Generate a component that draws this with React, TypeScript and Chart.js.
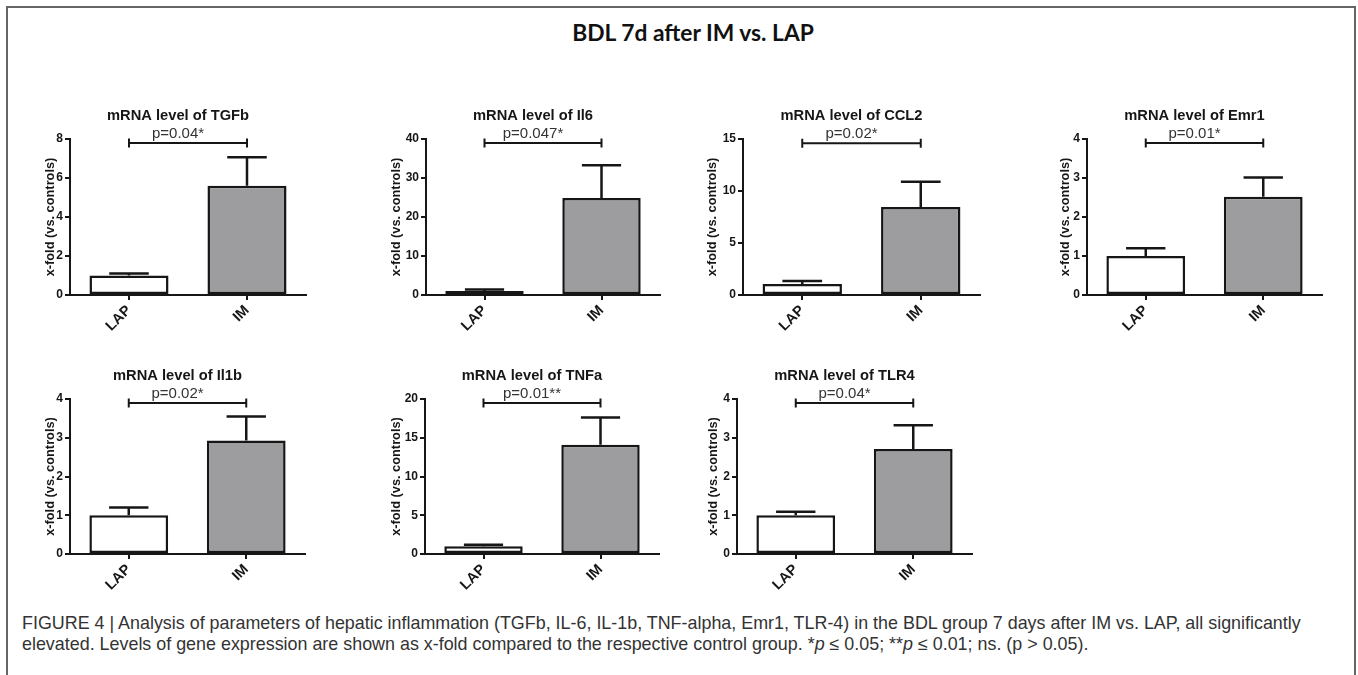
import React, { useEffect, useRef } from 'react';
import { Chart, registerables } from 'chart.js';

Chart.register(...registerables);

// ---------- data ----------
const categories = ['LAP', 'IM'];
const genes = ['TGFb', 'Il6', 'CCL2', 'Emr1', 'Il1b', 'TNFa', 'TLR4'];
const lapMeans = [1.0, 1.0, 1.05, 1.0, 1.0, 1.0, 1.0];
const lapUpper = [1.1, 1.4, 1.35, 1.2, 1.2, 1.2, 1.09];
const imMeans = [5.6, 24.9, 8.45, 2.52, 2.93, 14.1, 2.71];
const imUpper = [7.06, 33.3, 10.9, 3.01, 3.55, 17.6, 3.32];
const yMax = [8, 40, 15, 4, 4, 20, 4];
const yStep = [2, 10, 5, 1, 1, 5, 1];
const pLabels = ['p=0.04*', 'p=0.047*', 'p=0.02*', 'p=0.01*', 'p=0.02*', 'p=0.01**', 'p=0.04*'];
const bracketLevels = [7.8, 39, 14.6, 3.9, 3.9, 19.5, 3.9];
const yAxisTitle = 'x-fold (vs. controls)';
const mainTitle = 'BDL 7d after IM vs. LAP';

// ---------- layout (pixel geometry of each panel's plot area) ----------
type Geo = { L: number; R: number; T: number; B: number; yt: number };
const geos: Geo[] = [
  { L: 70, R: 306, T: 139, B: 295, yt: 50 },
  { L: 426, R: 660, T: 139, B: 295, yt: 396 },
  { L: 743, R: 980, T: 139, B: 295, yt: 712 },
  { L: 1087, R: 1322, T: 139, B: 295, yt: 1065 },
  { L: 70, R: 305, T: 399, B: 554, yt: 50 },
  { L: 425, R: 659, T: 399, B: 554, yt: 396 },
  { L: 737, R: 972, T: 399, B: 554, yt: 713 },
];
const PAD_L = 60;
const PAD_T = 42;
const PAD_R = 12;
const X_H = 52;
const INK = '#161616';
const GRAY = '#9d9d9f';
const FONT = '"Liberation Sans", Arial, Helvetica, sans-serif';

function overlayPlugin(idx: number) {
  return {
    id: 'overlay' + idx,
    afterDatasetsDraw(chart: any) {
      const ctx = chart.ctx;
      const meta = chart.getDatasetMeta(0);
      const ys = chart.scales.y;
      const area = chart.chartArea;
      const uppers = [lapUpper[idx], imUpper[idx]];
      ctx.save();
      ctx.strokeStyle = INK;
      ctx.lineWidth = 2.5;
      ctx.lineCap = 'butt';
      meta.data.forEach((bar: any, i: number) => {
        const x = bar.x;
        const top = bar.y;
        const ey = ys.getPixelForValue(uppers[i]);
        const half = bar.width / 4;
        ctx.beginPath();
        ctx.moveTo(x, top);
        ctx.lineTo(x, ey);
        ctx.moveTo(x - half, ey);
        ctx.lineTo(x + half, ey);
        ctx.stroke();
      });
      // significance bracket
      const by = ys.getPixelForValue(bracketLevels[idx]);
      const x0 = meta.data[0].x;
      const x1 = meta.data[1].x;
      ctx.lineWidth = 2;
      ctx.beginPath();
      ctx.moveTo(x0, by);
      ctx.lineTo(x1, by);
      ctx.moveTo(x0, by - 4.5);
      ctx.lineTo(x0, by + 4.5);
      ctx.moveTo(x1, by - 4.5);
      ctx.lineTo(x1, by + 4.5);
      ctx.stroke();
      const cx = (area.left + area.right) / 2 - 10;
      ctx.textAlign = 'center';
      ctx.textBaseline = 'alphabetic';
      ctx.fillStyle = '#333';
      ctx.font = '15px ' + FONT;
      ctx.fillText(pLabels[idx], cx, by - 5);
      ctx.fillStyle = INK;
      ctx.font = 'bold 14.7px ' + FONT;
      ctx.fillText('mRNA level of ' + genes[idx], cx, area.top - 19);
      ctx.restore();
    },
  };
}

function Panel({ idx }: { idx: number }) {
  const ref = useRef<HTMLCanvasElement>(null);
  const g = geos[idx];
  const w = g.R - g.L + PAD_L + PAD_R;
  const h = g.B - g.T + PAD_T + X_H;
  useEffect(() => {
    if (!ref.current) return;
    const chart = new Chart(ref.current, {
      type: 'bar',
      data: {
        labels: categories,
        datasets: [
          {
            data: [lapMeans[idx], imMeans[idx]],
            backgroundColor: ['#ffffff', GRAY],
            borderColor: INK,
            borderWidth: 2.5,
            borderSkipped: false,
            barPercentage: 0.67,
            categoryPercentage: 1,
          },
        ],
      },
      options: {
        animation: false,
        responsive: false,
        devicePixelRatio: 1,
        events: [],
        layout: { padding: { left: 0, top: PAD_T, right: PAD_R, bottom: 0 } },
        plugins: { legend: { display: false }, tooltip: { enabled: false }, title: { display: false } },
        scales: {
          x: {
            offset: true,
            grid: {
              display: true,
              drawOnChartArea: false,
              drawTicks: true,
              tickLength: 5,
              offset: false,
              color: INK,
              lineWidth: 2,
            },
            border: { display: true, color: INK, width: 2 },
            ticks: {
              minRotation: 45,
              maxRotation: 45,
              padding: 2,
              color: INK,
              font: { family: FONT, size: 14.5, weight: 'bold' },
            },
            afterFit: (s: any) => {
              s.height = X_H;
            },
          },
          y: {
            min: 0,
            max: yMax[idx],
            ticks: {
              stepSize: yStep[idx],
              padding: 2,
              color: INK,
              font: { family: FONT, size: 12, weight: 'bold' },
            },
            grid: {
              display: true,
              drawOnChartArea: false,
              drawTicks: true,
              tickLength: 5,
              color: INK,
              lineWidth: 2,
            },
            border: { display: true, color: INK, width: 2 },
            title: {
              display: true,
              text: yAxisTitle,
              color: INK,
              font: { family: FONT, size: 12.8, weight: 'bold' },
              padding: { top: g.yt - (g.L - PAD_L) - 7.7, bottom: 0 },
            },
            afterFit: (s: any) => {
              s.width = PAD_L;
            },
          },
        },
      },
      plugins: [overlayPlugin(idx)],
    } as any);
    return () => chart.destroy();
  }, [idx]);
  return (
    <canvas
      ref={ref}
      width={w}
      height={h}
      style={{ position: 'absolute', left: g.L - PAD_L, top: g.T - PAD_T, width: w, height: h }}
    />
  );
}

export default function App() {
  return (
    <div style={{ position: 'absolute', left: 0, top: 0, width: 1358, height: 675, overflow: 'hidden', background: '#fff' }}>
      <div
        style={{
          position: 'absolute',
          left: 6,
          top: 6,
          width: 1350,
          height: 680,
          border: '2px solid #666',
          boxSizing: 'border-box',
        }}
      />
      <div
        style={{
          position: 'absolute',
          left: 0,
          top: 17,
          width: 1386,
          textAlign: 'center',
          fontFamily: 'Lato, "Open Sans", sans-serif',
          fontWeight: 700,
          fontSize: 22.8,
          lineHeight: '30px',
          color: '#111',
        }}
      >
        {mainTitle}
      </div>
      {genes.map((_, i) => (
        <Panel key={i} idx={i} />
      ))}
      <div
        style={{
          position: 'absolute',
          left: 22,
          top: 613,
          width: 1330,
          whiteSpace: 'nowrap',
          fontFamily: FONT,
          fontSize: 17.9,
          lineHeight: '21px',
          color: '#333',
        }}
      >
        FIGURE 4 | Analysis of parameters of hepatic inflammation (TGFb, IL-6, IL-1b, TNF-alpha, Emr1, TLR-4) in the BDL
        group 7 days after IM vs. LAP, all significantly
        <br />
        elevated. Levels of gene expression are shown as x-fold compared to the respective control group. *<i>p</i> ≤ 0.05;
        **<i>p</i> ≤ 0.01; ns. (p &gt; 0.05).
      </div>
    </div>
  );
}
